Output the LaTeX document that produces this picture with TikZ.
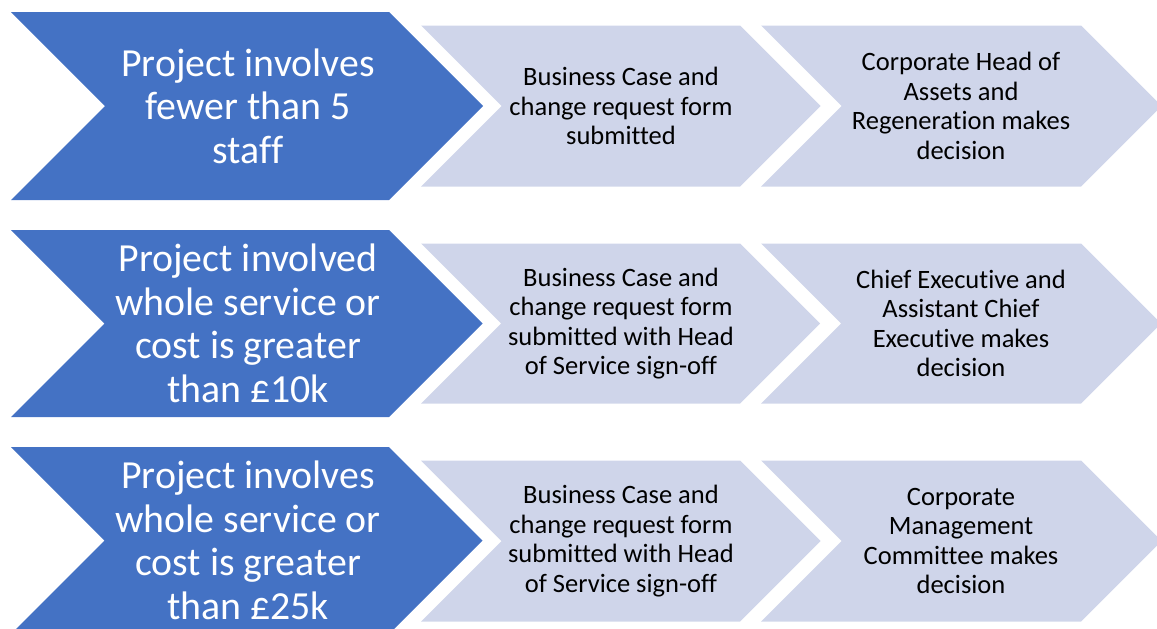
\documentclass[tikz,border=0pt]{standalone}
\usepackage{fontspec}
\setmainfont[Ligatures=NoCommon]{Carlito}
\usepackage{xcolor}
\usepackage{tikz}
\usetikzlibrary{positioning}

\definecolor{stepblue}{HTML}{4472C4}
\definecolor{steplight}{HTML}{CFD5EA}

% chevron: left x, right x, centre y, half height
\newcommand{\chevron}[5]{
\fill[#5] (#1,#3-#4) -- (#2,#3-#4) -- (#2+#4,#3) -- (#2,#3+#4) -- (#1,#3+#4) -- (#1+#4,#3) -- cycle;
}

\begin{document}
\begin{tikzpicture}[x=1pt, y=-1pt]

\tikzstyle{cond}=[text=white, align=center, font=\fontsize{39.8}{43.5}\selectfont]
\tikzstyle{stage}=[text=black, align=center, font=\fontsize{26.5}{29.5}\selectfont]

\clip (0,0) rectangle (1157,629);
\useasboundingbox (0,0) rectangle (1157,629);

% row 1 %
\chevron{11}{389}{106}{94}{stepblue}
\chevron{421}{740}{106}{80.5}{steplight}
\chevron{761}{1081}{106}{80.5}{steplight}
\node[cond] (c1) at (248,106) {Project involves\\fewer than 5\\staff};
\node[stage] (s1) at (621,106) {Business Case and\\change request form\\submitted};
\node[stage] (d1) at (961,106) {Corporate Head of\\Assets and\\Regeneration makes\\decision};

% row 2 %
\chevron{11}{389}{323.5}{93.5}{stepblue}
\chevron{421}{740}{323.5}{80}{steplight}
\chevron{761}{1081}{323.5}{80}{steplight}
\node[cond] (c2) at (248,323.5) {Project involved\\whole service or\\cost is greater\\than £10k};
\node[stage] (s2) at (621,323.5) {Business Case and\\change request form\\submitted with Head\\of Service sign-off};
\node[stage] (d2) at (961,323.5) {Chief Executive and\\Assistant Chief\\Executive makes\\decision};

% row 3 %
\chevron{11}{389}{540.5}{93.5}{stepblue}
\chevron{421}{740}{541}{80.5}{steplight}
\chevron{761}{1081}{541}{80.5}{steplight}
\node[cond] (c3) at (248,540.5) {Project involves\\whole service or\\cost is greater\\than £25k};
\node[stage] (s3) at (621,541) {Business Case and\\change request form\\submitted with Head\\of Service sign-off};
\node[stage] (d3) at (961,541) {Corporate\\Management\\Committee makes\\decision};

\end{tikzpicture}
\end{document}
